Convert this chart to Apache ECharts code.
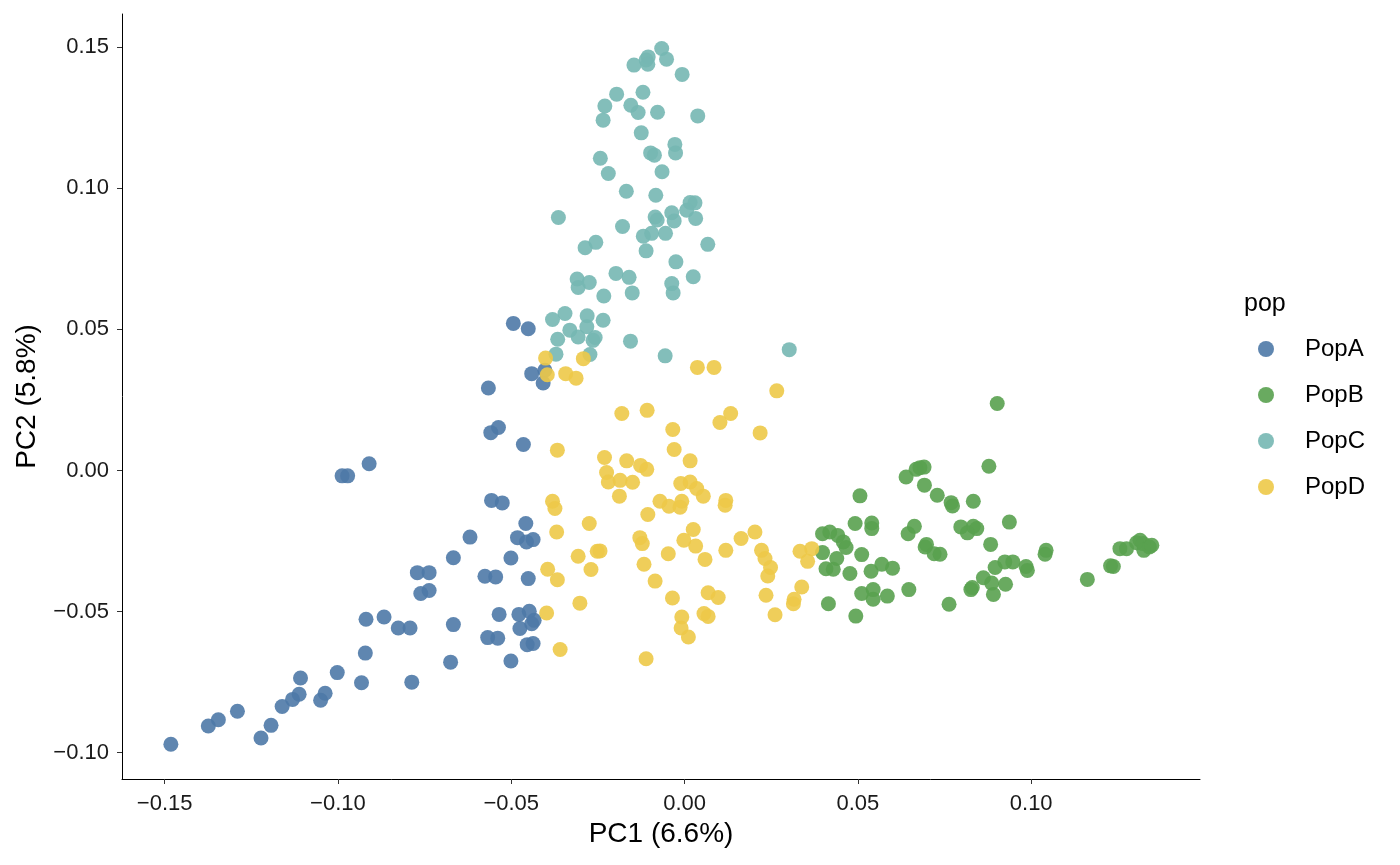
<!DOCTYPE html>
<html lang="en">
<head>
    <meta charset="utf-8">
    <title>PCA pop</title>
    <script src="https://cdn.jsdelivr.net/npm/echarts@6/dist/echarts.min.js"></script>
    <style>
        html, body { margin: 0; padding: 0; background: #fff; }
        #main { width: 1400px; height: 865px; }
    </style>
</head>
<body>
<div id="main"></div>
<script>
    // PC1 / PC2 scores, one array per population
    var popNames = ['PopA', 'PopB', 'PopC', 'PopD'];
    var popColors = ['#4E79A7', '#59A14F', '#76B7B2', '#EDC948'];

    var popA = [
        [-0.0494, 0.0521], [-0.0451, 0.0502], [-0.0441, 0.0343], [-0.0403, 0.0355], [-0.0408, 0.0310],
        [-0.0566, 0.0292], [-0.0537, 0.0152], [-0.0559, 0.0134], [-0.0465, 0.0092], [-0.0557, -0.0106],
        [-0.0526, -0.0115], [-0.0458, -0.0188], [-0.0619, -0.0236], [-0.0482, -0.0238], [-0.0456, -0.0253],
        [-0.0437, -0.0245], [-0.0667, -0.0309], [-0.0501, -0.0310], [-0.0576, -0.0375], [-0.0545, -0.0377],
        [-0.0451, -0.0383], [-0.0535, -0.0510], [-0.0478, -0.0510], [-0.0448, -0.0499], [-0.0434, -0.0531],
        [-0.0475, -0.0560], [-0.0441, -0.0543], [-0.0667, -0.0546], [-0.0568, -0.0592], [-0.0539, -0.0594],
        [-0.0454, -0.0617], [-0.0437, -0.0613], [-0.0675, -0.0679], [-0.0501, -0.0675], [-0.0910, 0.0024],
        [-0.0988, -0.0019], [-0.0972, -0.0019], [-0.0771, -0.0362], [-0.0737, -0.0362], [-0.0761, -0.0436],
        [-0.0737, -0.0425], [-0.0919, -0.0527], [-0.0867, -0.0519], [-0.0826, -0.0558], [-0.0792, -0.0558],
        [-0.0921, -0.0647], [-0.1002, -0.0716], [-0.0932, -0.0752], [-0.0787, -0.0750], [-0.1108, -0.0735],
        [-0.1112, -0.0793], [-0.1131, -0.0811], [-0.1037, -0.0789], [-0.1050, -0.0814], [-0.1161, -0.0836],
        [-0.1290, -0.0853], [-0.1345, -0.0883], [-0.1374, -0.0905], [-0.1193, -0.0903], [-0.1222, -0.0948],
        [-0.1482, -0.0970]
    ];

    var popB = [
        [0.0398, -0.0224], [0.0419, -0.0218], [0.0442, -0.0230], [0.0458, -0.0253], [0.0466, -0.0273],
        [0.0492, -0.0188], [0.0398, -0.0291], [0.0439, -0.0312], [0.0408, -0.0348], [0.0429, -0.0350],
        [0.0477, -0.0365], [0.0511, -0.0298], [0.0511, -0.0436], [0.0415, -0.0472], [0.0494, -0.0516],
        [0.0902, 0.0237], [0.0878, 0.0015], [0.0679, 0.0010], [0.0691, 0.0012], [0.0668, 0.0004],
        [0.0639, -0.0023], [0.0692, -0.0052], [0.0729, -0.0088], [0.0769, -0.0114], [0.0773, -0.0126],
        [0.0833, -0.0109], [0.0506, -0.0090], [0.0540, -0.0186], [0.0540, -0.0206], [0.0663, -0.0198],
        [0.0645, -0.0224], [0.0797, -0.0200], [0.0833, -0.0198], [0.0843, -0.0206], [0.0816, -0.0221],
        [0.0937, -0.0183], [0.0883, -0.0262], [0.0694, -0.0271], [0.0698, -0.0262], [0.0720, -0.0295],
        [0.0737, -0.0297], [0.0569, -0.0332], [0.0600, -0.0346], [0.0538, -0.0357], [0.0896, -0.0344],
        [0.0924, -0.0324], [0.0947, -0.0324], [0.0985, -0.0340], [0.0989, -0.0354], [0.0862, -0.0380],
        [0.0886, -0.0399], [0.0926, -0.0403], [0.0826, -0.0422], [0.0830, -0.0415], [0.0891, -0.0439],
        [0.0544, -0.0422], [0.0544, -0.0456], [0.0585, -0.0445], [0.0647, -0.0422], [0.0763, -0.0474],
        [0.1043, -0.0283], [0.1040, -0.0297], [0.1162, -0.0386], [0.1229, -0.0338], [0.1237, -0.0340],
        [0.1256, -0.0277], [0.1275, -0.0277], [0.1304, -0.0256], [0.1314, -0.0247], [0.1323, -0.0259],
        [0.1341, -0.0271], [0.1325, -0.0283], [0.1348, -0.0265]
    ];

    var popC = [
        [-0.0066, 0.1495], [-0.0105, 0.1465], [-0.0111, 0.1454], [-0.0052, 0.1457], [-0.0146, 0.1436],
        [-0.0106, 0.1439], [-0.0007, 0.1403], [-0.0196, 0.1333], [-0.0120, 0.1340], [-0.0230, 0.1291],
        [-0.0155, 0.1294], [-0.0134, 0.1268], [-0.0078, 0.1269], [0.0038, 0.1256], [-0.0235, 0.1241],
        [-0.0125, 0.1196], [-0.0098, 0.1125], [-0.0087, 0.1117], [-0.0028, 0.1155], [-0.0026, 0.1125],
        [-0.0243, 0.1106], [-0.0220, 0.1052], [-0.0065, 0.1058], [-0.0168, 0.0989], [-0.0083, 0.0975],
        [-0.0364, 0.0896], [-0.0179, 0.0864], [0.0016, 0.0949], [0.0030, 0.0948], [0.0006, 0.0922],
        [-0.0037, 0.0913], [-0.0085, 0.0898], [-0.0079, 0.0887], [-0.0030, 0.0884], [0.0032, 0.0893],
        [-0.0119, 0.0830], [-0.0095, 0.0840], [-0.0055, 0.0840], [-0.0256, 0.0808], [-0.0287, 0.0789],
        [-0.0111, 0.0778], [0.0067, 0.0801], [-0.0025, 0.0739], [-0.0198, 0.0698], [-0.0160, 0.0684],
        [-0.0310, 0.0678], [-0.0275, 0.0666], [-0.0307, 0.0648], [-0.0037, 0.0662], [0.0025, 0.0686],
        [-0.0233, 0.0618], [-0.0151, 0.0629], [-0.0033, 0.0629], [-0.0345, 0.0556], [-0.0381, 0.0535],
        [-0.0281, 0.0548], [-0.0235, 0.0532], [-0.0331, 0.0497], [-0.0282, 0.0509], [-0.0307, 0.0473],
        [-0.0366, 0.0465], [-0.0258, 0.0471], [-0.0264, 0.0461], [-0.0156, 0.0458], [-0.0371, 0.0412],
        [-0.0273, 0.0411], [-0.0056, 0.0406], [0.0302, 0.0428]
    ];

    var popD = [
        [-0.0401, 0.0398], [-0.0292, 0.0396], [-0.0396, 0.0339], [-0.0343, 0.0343], [-0.0313, 0.0327],
        [-0.0181, 0.0202], [-0.0367, 0.0072], [-0.0231, 0.0046], [-0.0167, 0.0034], [-0.0225, -0.0007],
        [-0.0220, -0.0041], [-0.0186, -0.0035], [-0.0150, -0.0042], [0.0037, 0.0365], [0.0085, 0.0365],
        [0.0266, 0.0282], [-0.0108, 0.0213], [0.0133, 0.0202], [0.0102, 0.0170], [-0.0034, 0.0145],
        [0.0218, 0.0133], [-0.0030, 0.0074], [-0.0127, 0.0018], [-0.0109, 0.0004], [0.0016, 0.0034],
        [-0.0011, -0.0046], [0.0016, -0.0041], [0.0035, -0.0064], [0.0054, -0.0091], [-0.0188, -0.0091],
        [-0.0071, -0.0109], [-0.0045, -0.0127], [-0.0008, -0.0109], [-0.0013, -0.0130], [0.0119, -0.0106],
        [0.0117, -0.0123], [-0.0106, -0.0156], [-0.0244, -0.0285], [0.0025, -0.0209], [-0.0129, -0.0238],
        [-0.0122, -0.0259], [-0.0002, -0.0247], [0.0032, -0.0268], [-0.0047, -0.0295], [0.0059, -0.0315],
        [0.0119, -0.0283], [0.0163, -0.0241], [0.0203, -0.0218], [0.0222, -0.0283], [0.0232, -0.0312],
        [0.0248, -0.0344], [0.0240, -0.0374], [0.0333, -0.0286], [0.0367, -0.0277], [0.0355, -0.0322],
        [-0.0117, -0.0332], [-0.0085, -0.0392], [0.0338, -0.0413], [-0.0035, -0.0452], [0.0068, -0.0433],
        [0.0097, -0.0450], [0.0235, -0.0442], [0.0314, -0.0472], [-0.0008, -0.0519], [0.0056, -0.0507],
        [0.0068, -0.0517], [0.0261, -0.0511], [-0.0010, -0.0558], [0.0011, -0.0590], [-0.0111, -0.0667],
        [-0.0381, -0.0109], [-0.0374, -0.0135], [-0.0275, -0.0188], [-0.0369, -0.0218], [-0.0307, -0.0304],
        [-0.0252, -0.0286], [-0.0270, -0.0351], [-0.0395, -0.0350], [-0.0367, -0.0387], [-0.0302, -0.0470],
        [-0.0398, -0.0505], [-0.0359, -0.0634], [0.0316, -0.0456]
    ];

    var xTicks = [-0.15, -0.10, -0.05, 0.00, 0.05, 0.10];
    var yTicks = [-0.10, -0.05, 0.00, 0.05, 0.10, 0.15];

    var fontName = '"Liberation Sans", Arial, sans-serif';
    var popData = [popA, popB, popC, popD];

    var seriesList = [];
    for (var i = 0; i < popNames.length; i++) {
        seriesList.push({
            name: popNames[i],
            type: 'scatter',
            data: popData[i],
            symbol: 'circle',
            symbolSize: 15,
            itemStyle: {color: popColors[i], opacity: 0.9},
            emphasis: {disabled: true}
        });
    }

    // R draws tick labels with a real minus sign
    function tickText(v) {
        var s = (Math.abs(v) < 1e-9 ? 0 : v).toFixed(2);
        return s.replace('-', '\u2212');
    }

    function axisPart(ticks, name, nameGap, labelMargin) {
        return {
            type: 'value',
            name: name,
            nameLocation: 'middle',
            nameGap: nameGap,
            nameTextStyle: {fontFamily: fontName, fontSize: 28, color: '#000'},
            splitLine: {show: false},
            axisLine: {show: true, onZero: false, lineStyle: {color: '#000', width: 1}},
            axisTick: {show: true, length: 5, customValues: ticks, lineStyle: {color: '#333', width: 1}},
            axisLabel: {
                show: true,
                customValues: ticks,
                margin: labelMargin,
                fontFamily: fontName,
                fontSize: 22,
                color: '#1a1a1a',
                formatter: tickText
            }
        };
    }

    var xAxis = axisPart(xTicks, 'PC1 (6.6%)', 40, 14);
    xAxis.min = -0.1623;
    xAxis.max = 0.1487;
    var yAxis = axisPart(yTicks, 'PC2 (5.8%)', 81, 13);
    yAxis.min = -0.1093;
    yAxis.max = 0.1617;

    var myChart = echarts.init(document.getElementById('main'), null, {renderer: 'canvas'});

    var option = {
        animation: false,
        backgroundColor: '#fff',
        grid: {left: 122, right: 200, top: 14, bottom: 86},
        title: {
            text: 'pop',
            left: 1244,
            top: 292,
            padding: 0,
            textStyle: {fontFamily: fontName, fontSize: 25, fontWeight: 'normal', color: '#000'}
        },
        legend: {
            data: popNames,
            orient: 'vertical',
            left: 1258,
            top: 337,
            padding: 0,
            itemGap: 22,
            itemWidth: 16,
            itemHeight: 16,
            icon: 'circle',
            selectedMode: false,
            textStyle: {
                fontFamily: fontName,
                fontSize: 24,
                lineHeight: 24,
                color: '#000',
                padding: [0, 0, 0, 26]
            }
        },
        xAxis: xAxis,
        yAxis: yAxis,
        series: seriesList
    };

    myChart.setOption(option);
</script>
</body>
</html>
